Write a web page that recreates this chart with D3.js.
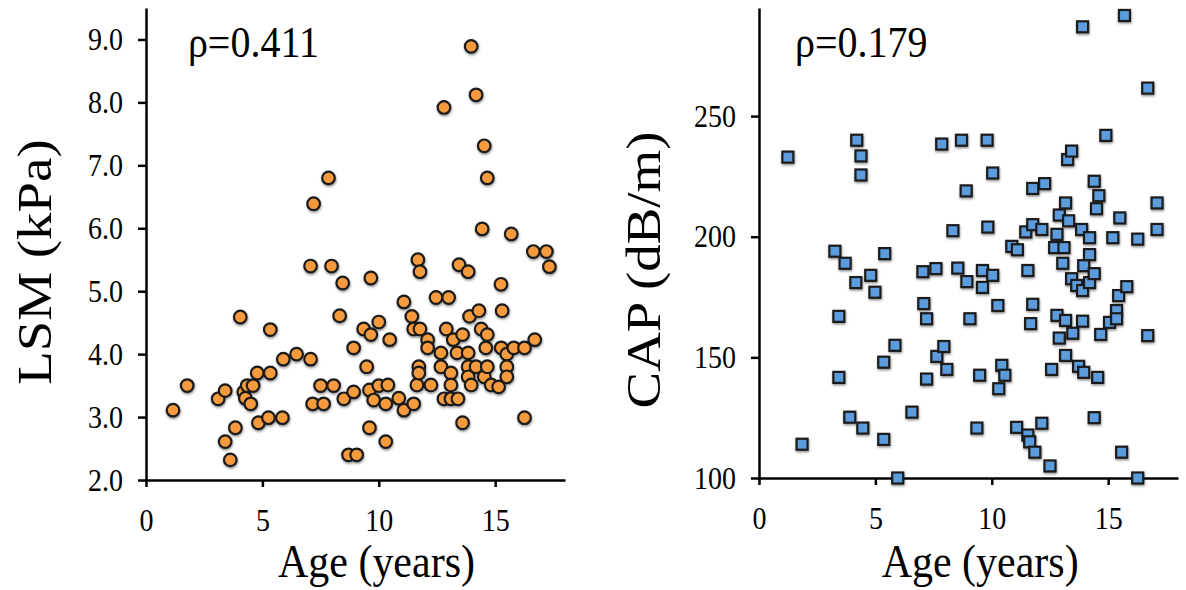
<!DOCTYPE html>
<html>
<head>
<meta charset="utf-8">
<script src="https://cdn.jsdelivr.net/npm/d3@7"></script>
<style>
  body { margin: 0; background: #fff; }
</style>
</head>
<body>
<svg id="chart" width="1186" height="590"></svg>
<script>
// ---- data ----
const lsmAge = [1.16,1.77,3.1,3.4,3.4,3.62,3.84,4.05,4.2,4.27,4.35,4.5,4.6,4.78,4.83,5.26,5.34,5.34,5.86,5.9,
  6.47,7.07,7.07,7.2,7.16,7.5,7.63,7.84,7.97,8.06,8.32,8.45,8.5,8.7,8.92,8.92,9.05,9.35,9.48,9.6,
  9.6,9.66,9.66,9.78,10.0,10.0,10.3,10.3,10.39,10.47,10.86,11.08,11.08,11.42,11.5,11.5,11.64,11.68,11.72,11.72,
  11.77,11.77,12.1,12.1,12.24,12.46,12.67,12.67,12.8,12.8,12.9,13.0,13.1,13.1,13.1,13.2,13.36,13.4,13.45,13.6,
  13.6,13.84,13.84,13.84,13.84,13.9,13.97,13.97,14.18,14.18,14.3,14.4,14.44,14.53,14.53,14.6,14.66,14.66,14.66,14.83,
  15.15,15.25,15.26,15.3,15.5,15.5,15.5,15.69,15.8,16.26,16.26,16.64,16.7,17.2,17.33]
const lsmVal = [3.11,3.50,3.29,3.42,2.61,2.32,2.83,4.59,3.40,3.30,3.50,3.21,3.50,3.70,2.91,2.99,4.39,3.70,2.99,3.92,
  4.00,3.92,5.40,6.39,3.21,3.50,3.21,6.80,5.40,3.50,4.61,5.13,3.29,2.40,4.10,3.40,2.40,4.40,3.80,3.43,
  2.83,5.21,4.31,3.27,4.51,3.50,3.21,2.61,3.51,4.23,3.30,3.11,4.83,4.60,4.40,3.21,3.51,5.50,3.80,3.70,
  5.31,4.40,4.23,4.10,3.51,4.90,4.02,3.80,7.92,3.29,4.40,4.90,3.70,3.51,3.29,4.23,4.02,3.29,5.42,4.31,
  2.91,5.31,4.02,3.80,3.64,4.60,8.89,3.51,8.12,3.80,4.69,4.40,5.99,7.31,3.64,4.10,6.80,4.31,3.80,3.51,
  3.48,5.11,4.10,4.69,4.00,3.80,3.64,5.91,4.10,4.10,2.99,5.63,4.23,5.63,5.39]

const capAge = [1.24,1.85,3.26,3.43,3.43,3.7,3.9,4.16,4.2,4.38,4.38,4.46,4.8,4.98,5.36,5.36,5.4,5.84,5.96,6.57,
  7.04,7.08,7.2,7.2,7.6,7.64,7.85,7.94,8.07,8.33,8.54,8.7,8.9,8.93,9.06,9.36,9.48,9.6,9.6,9.8,
  9.83,10.04,10.04,10.26,10.3,10.43,10.56,10.86,11.07,11.1,11.46,11.55,11.55,11.63,11.67,11.76,11.76,11.76,11.85,12.15,
  12.15,12.27,12.5,12.57,12.7,12.8,12.8,12.9,12.9,13.05,13.1,13.17,13.17,13.17,13.26,13.3,13.43,13.43,13.48,13.65,
  13.73,13.86,13.9,13.9,13.9,13.95,13.95,14.2,14.2,14.2,14.4,14.4,14.4,14.5,14.55,14.6,14.68,14.9,15.06,15.2,
  15.36,15.36,15.45,15.5,15.58,15.7,15.8,16.27,16.27,16.7,16.7,17.1,17.1]
const capVal = [233,114,194,167,141.7,189,125.2,181,240,233.5,225.6,120.7,184,177,148,116,193,155,100,127.3,
  185.5,172.3,166,141,186.8,150.4,238.4,154.5,145,202.5,187,240,219,181.4,166,120.7,142.6,186,179,240,
  204,226.4,184,171.5,137,146.7,142.6,196,121,194.6,202,186,117.8,115,164,220,205,172,110.7,203,
  122.7,222,105,145,195.5,201,167.4,209,158,189,195.5,214,165.3,150.8,232,206.6,235.5,182.6,160,179.8,
  146.3,203,287,177.7,165,188,143.8,199.6,192.6,181,223,184.7,125,211.6,141.7,217,159.5,242,164.5,199.6,
  169.4,166,175.6,207.8,110.7,291.7,179.3,199,100,261.6,159,214,203]

const xTicks = [0, 5, 10, 15]
const lsmTicks = [2, 3, 4, 5, 6, 7, 8, 9]
const capTicks = [100, 150, 200, 250]

const serif = '"Liberation Serif", "Times New Roman", Times, serif'
const stretch = 1.12   // the original figure is a bit taller than wide

const svg = d3.select("#chart")

// soft shadow like the original markers
const defs = svg.append("defs")
const f = defs.append("filter").attr("id", "shadow").attr("x", "-50%").attr("y", "-50%").attr("width", "200%").attr("height", "200%")
f.append("feDropShadow").attr("dx", 0.5).attr("dy", 1.5).attr("stdDeviation", 1.3).attr("flood-color", "#000").attr("flood-opacity", 0.45)

function label(g, x, y, txt, size, rotated) {
  const tr = rotated ? `translate(${x},${y}) rotate(-90) scale(${stretch},1)` : `translate(${x},${y}) scale(1,${stretch})`
  return g.append("text").attr("transform", tr)
    .attr("text-anchor", rotated ? "middle" : "start")
    .style("font-family", serif).style("font-size", size + "px").attr("fill", "#000").text(txt)
}

function panel(o) {
  const x = d3.scaleLinear().domain([0, 18]).range([o.left, o.right])
  const y = d3.scaleLinear().domain(o.yDomain).range([o.bottom, o.top])
  const g = svg.append("g")

  const xa = g.append("g").attr("transform", `translate(0,${o.bottom})`)
    .call(d3.axisBottom(x).tickValues(xTicks).tickSize(7).tickPadding(19).tickSizeOuter(0))
  const ya = g.append("g").attr("transform", `translate(${o.left},0)`)
    .call(d3.axisLeft(y).tickValues(o.yTicks).tickFormat(o.fmt).tickSize(8).tickPadding(15).tickSizeOuter(0))
  ;[xa, ya].forEach(a => {
    a.attr("font-family", null)
    a.select(".domain").attr("stroke", "#000").attr("stroke-width", 2.5)
    a.selectAll(".tick line").attr("stroke", "#000").attr("stroke-width", 2.5)
    a.selectAll(".tick text").style("font-family", serif).style("font-size", "28px").attr("fill", "#000")
      .attr("transform", `scale(1,${stretch})`)
  })

  // axis titles
  label(g, x(o.titleAt), 577, "Age (years)", 42, false).attr("text-anchor", "middle")
  label(g, o.ytx, o.yty, o.ytitle, 49, true)
  label(g, x(o.rhoAt), 57, o.rho, 40, false)

  const pts = g.append("g").attr("filter", "url(#shadow)")
  if (o.shape === "circle") {
    pts.selectAll("circle").data(o.xs).join("circle")
      .attr("cx", d => x(d)).attr("cy", (d, i) => y(o.ys[i])).attr("r", 6.3)
      .attr("fill", "#f59b3e").attr("stroke", "#1a1a1a").attr("stroke-width", 2.2)
  } else {
    pts.selectAll("rect").data(o.xs).join("rect")
      .attr("x", d => x(d) - 5.5).attr("y", (d, i) => y(o.ys[i]) - 5.5).attr("width", 11).attr("height", 11)
      .attr("fill", "#5b9bdc").attr("stroke", "#1a1a1a").attr("stroke-width", 2.2)
  }
}

panel({ left: 146, right: 565, top: 8, bottom: 480, yDomain: [2, 9.5], yTicks: lsmTicks, fmt: d3.format(".1f"),
  xs: lsmAge, ys: lsmVal, shape: "circle", ytitle: "LSM (kPa)", ytx: 51, yty: 262,
  rho: "ρ=0.411", rhoAt: 1.8, titleAt: 9.9 })
panel({ left: 759, right: 1178, top: 8, bottom: 478, yDomain: [100, 294.8], yTicks: capTicks, fmt: d3.format("d"),
  xs: capAge, ys: capVal, shape: "square", ytitle: "CAP (dB/m)", ytx: 660, yty: 270,
  rho: "ρ=0.179", rhoAt: 1.55, titleAt: 9.5 })
</script>
</body>
</html>
